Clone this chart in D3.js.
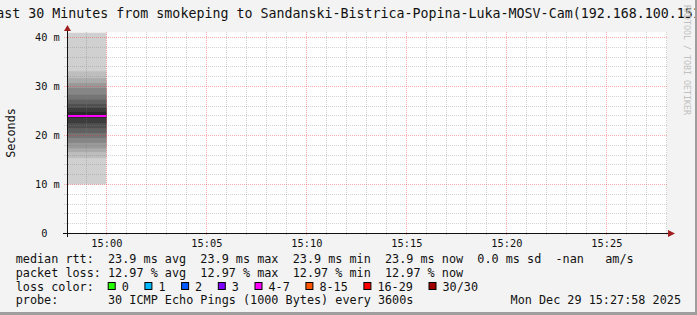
<!DOCTYPE html>
<html>
<head>
<meta charset="utf-8">
<script src="https://cdn.jsdelivr.net/npm/d3@7"></script>
<style>
  body { margin: 0; background: #f3f3f3; }
  text { font-family: "DejaVu Sans Mono", monospace; white-space: pre; }
</style>
</head>
<body>
<div id="chart"></div>
<script>
// data
const title = "Last 30 Minutes from smokeping to Sandanski-Bistrica-Popina-Luka-MOSV-Cam(192.168.100.151)";
const startTime = new Date(2025, 11, 29, 14, 58, 2);
const endTime = new Date(2025, 11, 29, 15, 28, 2);
const sampleStart = new Date(2025, 11, 29, 14, 0, 0);
const sampleEnd = new Date(2025, 11, 29, 15, 0, 0);
// sorted ping times (ms) of the single sample, paired from both ends for the smoke
const pings = [9.9, 15.3, 16.5, 17.3, 18.4, 19.4, 20.4, 21.4, 22.4, 23.5,
               24.7, 25.5, 26.3, 27.2, 28.2, 29.6, 30.6, 31.6, 33.0, 40.9];
const medianRtt = 23.9;
const yTicks = [0, 10, 20, 30, 40];
const yTickLabels = [" 0", "10 m", "20 m", "30 m", "40 m"];
const rttStats = ["23.9 ms avg", "23.9 ms max", "23.9 ms min", "23.9 ms now", "0.0 ms sd", "-nan", " am/s"];
const lossStats = ["12.97 % avg", "12.97 % max", "12.97 % min", "12.97 % now"];
const lossBins = ["0", "1", "2", "3", "4-7", "8-15", "16-29", "30/30"];
const lossColors = ["#26ff00", "#00b8ff", "#0059ff", "#7e00ff", "#ff00ff", "#ff5500", "#ff0000", "#a00000"];
const probeText = "30 ICMP Echo Pings (1000 Bytes) every 3600s";
const dateText = "Mon Dec 29 15:27:58 2025";

const W = 697, H = 315;
const plotLeft = 67, plotRight = 667, plotTop = 32, plotBottom = 233;

const svg = d3.select("#chart").append("svg").attr("width", W).attr("height", H);

svg.append("rect").attr("width", W).attr("height", H).attr("fill", "#f3f3f3");

const x = d3.scaleTime().domain([startTime, endTime]).range([plotLeft, plotRight]);
const y = d3.scaleLinear().domain([0, 41.02]).range([plotBottom, plotTop]);

// canvas
svg.append("rect")
  .attr("x", plotLeft).attr("y", plotTop)
  .attr("width", plotRight - plotLeft).attr("height", plotBottom - plotTop)
  .attr("fill", "white");

// smoke
const half = pings.length / 2;
const grey = d3.scaleLinear().domain([0, half - 1]).range(["#d0d0d0", "#2a2a2a"]);
const x0 = x(d3.max([sampleStart, startTime])), x1 = x(sampleEnd);
svg.append("g").selectAll("rect")
  .data(d3.range(half))
  .enter()
  .append("rect")
  .attr("x", x0)
  .attr("width", x1 - x0)
  .attr("y", function (i) { return y(pings[pings.length - 1 - i]); })
  .attr("height", function (i) { return y(pings[i]) - y(pings[pings.length - 1 - i]); })
  .attr("fill", function (i) { return grey(i); });

// grid (semi transparent, like rrdtool)
const grid = svg.append("g").attr("shape-rendering", "crispEdges");
const minorX = d3.timeMinute.every(1).range(startTime, endTime);
const majorX = d3.timeMinute.every(5).range(startTime, endTime);
const minorColor = "rgba(128,128,128,0.35)", majorColor = "rgba(230,50,50,0.4)";
grid.selectAll(".vminor")
  .data(minorX.filter(function (d) { return d.getMinutes() % 5 !== 0; }))
  .enter().append("line")
  .attr("x1", function (d) { return Math.round(x(d)) + 0.5; })
  .attr("x2", function (d) { return Math.round(x(d)) + 0.5; })
  .attr("y1", plotTop).attr("y2", plotBottom + 3)
  .attr("stroke", minorColor).attr("stroke-dasharray", "1,1");
grid.selectAll(".hminor")
  .data(y.ticks(20).filter(function (d) { return d % 10 !== 0; }))
  .enter().append("line")
  .attr("y1", function (d) { return Math.round(y(d)) + 0.5; })
  .attr("y2", function (d) { return Math.round(y(d)) + 0.5; })
  .attr("x1", plotLeft - 3).attr("x2", plotRight + 1)
  .attr("stroke", minorColor).attr("stroke-dasharray", "1,1");
grid.selectAll(".vmajor")
  .data(majorX)
  .enter().append("line")
  .attr("x1", function (d) { return Math.round(x(d)) + 0.5; })
  .attr("x2", function (d) { return Math.round(x(d)) + 0.5; })
  .attr("y1", plotTop).attr("y2", plotBottom + 3)
  .attr("stroke", majorColor).attr("stroke-dasharray", "1,1");
grid.selectAll(".hmajor")
  .data(yTicks.filter(function (d) { return d > 0; }))
  .enter().append("line")
  .attr("y1", function (d) { return Math.round(y(d)) + 0.5; })
  .attr("y2", function (d) { return Math.round(y(d)) + 0.5; })
  .attr("x1", plotLeft - 3).attr("x2", plotRight + 1)
  .attr("stroke", majorColor).attr("stroke-dasharray", "1,1");

// median line, coloured by loss bin (4-7 lost of 30)
svg.append("line")
  .attr("x1", x0).attr("x2", x1)
  .attr("y1", y(medianRtt)).attr("y2", y(medianRtt))
  .attr("stroke", lossColors[4]).attr("stroke-width", 2);

// axes
svg.append("line")
  .attr("x1", plotLeft - 4).attr("x2", plotRight + 1)
  .attr("y1", plotBottom + 0.5).attr("y2", plotBottom + 0.5)
  .attr("stroke", "#111");
svg.append("path")
  .attr("d", "M" + (plotRight + 1) + "," + (plotBottom - 3) + "L" + (plotRight + 8) + "," + (plotBottom + 0.5) + "L" + (plotRight + 1) + "," + (plotBottom + 4) + "Z")
  .attr("fill", "#a01e1e");
svg.append("line")
  .attr("x1", plotLeft + 0.5).attr("x2", plotLeft + 0.5)
  .attr("y1", plotBottom + 4).attr("y2", plotTop - 1)
  .attr("stroke", "#111");
svg.append("path")
  .attr("d", "M" + (plotLeft - 3) + "," + (plotTop - 1) + "L" + (plotLeft + 0.5) + "," + (plotTop - 7) + "L" + (plotLeft + 4) + "," + (plotTop - 1) + "Z")
  .attr("fill", "#a01e1e");

// tick labels
svg.append("g").selectAll("text")
  .data(yTicks)
  .enter().append("text")
  .attr("x", 35)
  .attr("y", function (d) { return y(d) + 3.8; })
  .style("font-size", "10.3px")
  .attr("fill", "#111")
  .text(function (d, i) { return yTickLabels[i]; });

const fmt = d3.timeFormat("%H:%M");
svg.append("g").selectAll("text")
  .data(majorX)
  .enter().append("text")
  .attr("x", function (d) { return x(d) + 0.5; })
  .attr("y", 247)
  .attr("text-anchor", "middle")
  .style("font-size", "10.3px")
  .attr("fill", "#111")
  .text(fmt);

// unit label
svg.append("text")
  .attr("transform", "translate(15,133) rotate(-90)")
  .attr("text-anchor", "middle")
  .style("font-size", "11.8px")
  .attr("fill", "#111")
  .text("Seconds");

// title
svg.append("text")
  .attr("x", 348.5).attr("y", 17.5)
  .attr("text-anchor", "middle")
  .style("font-size", "13.3px")
  .attr("fill", "#111")
  .text(title);

// watermark
svg.append("text")
  .attr("transform", "translate(684,5) rotate(90)")
  .style("font-size", "8.3px")
  .attr("fill", "#c0c0c0")
  .text("RRDTOOL / TOBI OETIKER");

// legend
const lx = 15.7, cw = 7.1;
const legend = svg.append("g").style("font-size", "11.8px").attr("fill", "#111");
legend.append("text").attr("x", lx).attr("y", 263)
  .text("median rtt:  " + rttStats.join("  "));
legend.append("text").attr("x", lx).attr("y", 276.8)
  .text("packet loss: " + lossStats.join("  "));
legend.append("text").attr("x", lx).attr("y", 290.6).text("loss color:");
legend.append("text").attr("x", lx).attr("y", 304.4)
  .text("probe:       " + probeText);
legend.append("text").attr("x", 681).attr("y", 304.4)
  .attr("text-anchor", "end").text(dateText);

let bx = lx + 13 * cw - 0.3;
const boxX = lossBins.map(function (b) {
  const cur = bx;
  bx = cur + 14 + b.length * cw + 15.6;
  return cur;
});
const items = legend.selectAll(".loss")
  .data(lossBins)
  .enter().append("g")
  .attr("transform", function (d, i) { return "translate(" + boxX[i] + ",0)"; });
items.append("rect")
  .attr("x", 0.5).attr("y", 282.5)
  .attr("width", 7).attr("height", 7)
  .attr("fill", function (d, i) { return lossColors[i]; })
  .attr("stroke", "#000");
items.append("text")
  .attr("x", 14).attr("y", 290.6)
  .text(function (d) { return d; });

// frame shading
svg.append("rect").attr("x", W - 2).attr("y", 0).attr("width", 2).attr("height", H).attr("fill", "#9e9e9e");
svg.append("rect").attr("x", 0).attr("y", H - 3).attr("width", W).attr("height", 3).attr("fill", "#9e9e9e");
</script>
</body>
</html>
